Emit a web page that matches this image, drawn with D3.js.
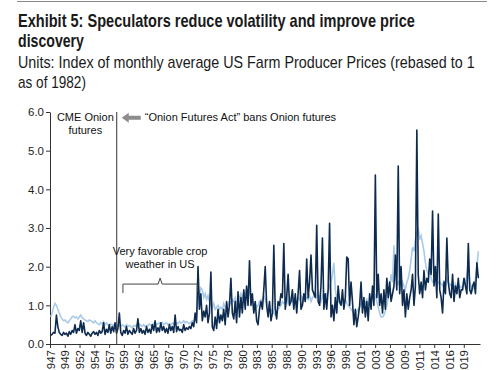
<!DOCTYPE html>
<html>
<head>
<meta charset="utf-8">
<script src="https://cdn.jsdelivr.net/npm/d3@7"></script>
<style>
  body { margin: 0; background: #fff; }
  .title { font-family: "Liberation Sans Narrow", "Arial Narrow", "Liberation Sans", sans-serif; }
  .axis text { font-family: "Liberation Sans", Arial, sans-serif; font-size: 11.5px; fill: #222; }
  .axis path, .axis line { stroke: #333; }
  .note { font-family: "Liberation Sans", Arial, sans-serif; font-size: 11px; fill: #111; }
</style>
</head>
<body>
<div id="chart"></div>
<script>
// quarterly readings, one row per year, 1947 .. 2021
const years = d3.range(1947, 2022);

const onionPrices = [
  0.22, 0.25, 0.30, 0.28,  // 1947
  0.75, 0.45, 0.30, 0.25,
  0.22, 0.30, 0.25, 0.28,
  0.20, 0.32, 0.25, 0.35,  // 1950
  0.30, 0.50, 0.28, 0.40,
  0.35, 0.60, 0.30, 0.55,
  0.28, 0.22, 0.30, 0.25,
  0.20, 0.28, 0.32, 0.25,
  0.30, 0.22, 0.35, 0.28,  // 1955
  0.32, 0.55, 0.25, 0.38,
  0.30, 0.50, 0.28, 0.45,
  0.32, 0.55, 0.28, 0.40,
  0.80, 0.30, 0.22, 0.35,
  0.28, 0.45, 0.25, 0.35,  // 1960
  0.30, 0.25, 0.40, 0.28,
  0.35, 0.65, 0.30, 0.40,
  0.28, 0.35, 0.25, 0.45,
  0.30, 0.38, 0.28, 0.50,
  0.35, 0.60, 0.30, 0.42,  // 1965
  0.32, 0.55, 0.35, 0.45,
  0.30, 0.40, 0.28, 0.50,
  0.35, 0.45, 0.30, 0.75,
  0.32, 0.45, 0.35, 0.38,
  0.30, 0.50, 0.35, 0.42,  // 1970
  0.38, 0.45, 0.40, 0.55,
  0.45, 0.80, 0.55, 2.00,
  0.90, 1.30, 0.60, 0.85,
  0.70, 1.00, 0.55, 0.80,
  1.86, 0.45, 0.35, 0.70,  // 1975
  0.40, 0.90, 0.55, 0.75,
  0.60, 0.90, 0.50, 1.10,
  0.70, 1.00, 1.70, 0.80,
  0.65, 1.10, 0.55, 1.35,
  0.70, 1.20, 0.80, 1.40,  // 1980
  0.90, 1.50, 1.00, 2.15,
  1.00, 1.30, 0.80, 1.10,
  0.60, 0.50, 0.90, 1.10,
  0.90, 1.40, 2.00, 1.00,
  0.70, 1.10, 0.60, 0.80,  // 1985
  2.55, 0.90, 0.65, 1.10,
  1.00, 1.30, 1.20, 2.60,
  0.90, 1.20, 1.80, 1.00,
  1.10, 1.40, 0.90, 1.30,
  0.80, 1.30, 1.90, 0.90,  // 1990
  1.00, 1.30, 1.10, 2.20,
  1.20, 1.60, 2.30, 1.40,
  1.30, 1.20, 3.07, 1.10,
  1.00, 1.50, 2.74, 0.90,
  1.30, 0.90, 1.40, 3.12,  // 1995
  0.70, 1.00, 0.60, 1.20,
  0.80, 1.50, 1.10, 1.00,
  1.40, 0.90, 1.20, 2.25,
  2.20, 1.00, 1.60, 1.10,
  0.50, 0.90, 0.45, 0.70,  // 2000
  1.00, 1.60, 0.80, 1.20,
  0.70, 1.10, 0.60, 1.30,
  0.90, 1.50, 1.00, 4.37,
  1.20, 1.80, 1.00, 1.30,
  0.80, 1.40, 0.90, 1.70,  // 2005
  1.20, 1.60, 1.10, 1.30,
  1.50, 2.30, 1.40, 4.60,
  1.30, 2.00, 1.00, 1.40,
  0.70, 1.30, 0.90, 1.20,
  1.40, 1.80, 1.00, 1.50,  // 2010
  5.53, 1.80, 1.30, 1.60,
  1.20, 1.90, 1.40, 1.70,
  1.60, 2.20, 1.80, 3.44,
  1.50, 2.00, 1.20, 3.36,
  1.40, 1.20, 0.80, 1.60,  // 2015
  1.30, 2.74, 1.60, 1.30,
  1.20, 1.80, 1.10, 1.50,
  1.30, 1.70, 1.20, 1.40,
  1.40, 1.70, 1.50, 1.30,
  2.60, 1.40, 1.30, 1.50,  // 2020
  1.60, 1.30, 2.10, 1.70
];

const farmPrices = [
  0.70, 0.80, 0.95, 1.05,  // 1947
  1.00, 0.90, 0.80, 0.70,
  0.65, 0.60, 0.62, 0.58,
  0.55, 0.60, 0.65, 0.70,  // 1950
  0.72, 0.68, 0.70, 0.65,
  0.70, 0.75, 0.68, 0.65,
  0.62, 0.60, 0.58, 0.62,
  0.60, 0.58, 0.55, 0.60,
  0.55, 0.52, 0.50, 0.55,  // 1955
  0.52, 0.58, 0.50, 0.55,
  0.50, 0.48, 0.52, 0.50,
  0.48, 0.52, 0.50, 0.45,
  0.48, 0.45, 0.50, 0.47,
  0.44, 0.50, 0.46, 0.48,  // 1960
  0.45, 0.42, 0.48, 0.46,
  0.50, 0.47, 0.52, 0.48,
  0.46, 0.50, 0.45, 0.48,
  0.47, 0.52, 0.48, 0.50,
  0.52, 0.55, 0.50, 0.53,  // 1965
  0.55, 0.52, 0.56, 0.50,
  0.52, 0.55, 0.50, 0.53,
  0.50, 0.54, 0.52, 0.56,
  0.55, 0.52, 0.58, 0.54,
  0.56, 0.60, 0.55, 0.58,  // 1970
  0.55, 0.52, 0.56, 0.60,
  0.58, 0.62, 0.70, 1.10,
  1.30, 1.45, 1.40, 1.20,
  1.30, 1.15, 1.25, 1.10,
  1.00, 0.95, 1.05, 0.90,  // 1975
  0.95, 1.00, 0.90, 0.95,
  0.90, 1.05, 0.95, 1.00,
  1.00, 1.10, 1.05, 1.15,
  1.10, 1.20, 1.05, 1.15,
  1.20, 1.30, 1.15, 1.35,  // 1980
  1.30, 1.40, 1.25, 1.35,
  1.20, 1.10, 1.00, 1.05,
  0.95, 1.00, 1.10, 1.15,
  1.10, 1.25, 1.15, 1.05,
  1.00, 0.95, 0.85, 0.90,  // 1985
  0.80, 0.75, 0.85, 0.90,
  0.95, 1.00, 1.10, 1.05,
  1.10, 1.20, 1.05, 1.15,
  1.20, 1.10, 1.15, 1.05,
  1.10, 1.20, 1.15, 1.25,  // 1990
  1.20, 1.10, 1.15, 1.20,
  1.15, 1.25, 1.10, 1.20,
  1.25, 1.35, 1.20, 1.30,
  1.20, 1.10, 1.25, 1.15,
  1.20, 1.30, 1.35, 1.50,  // 1995
  1.60, 1.80, 2.10, 1.40,
  1.20, 1.15, 1.05, 1.10,
  1.10, 1.00, 1.15, 1.05,
  1.00, 0.95, 0.90, 0.85,
  0.80, 0.75, 0.85, 0.90,  // 2000
  0.95, 1.05, 1.00, 1.10,
  1.05, 1.15, 1.00, 1.10,
  1.20, 1.30, 1.15, 1.25,
  1.10, 0.95, 0.80, 0.70,
  0.70, 0.75, 0.85, 1.00,  // 2005
  1.20, 1.40, 1.80, 1.60,
  2.55, 1.80, 1.50, 1.60,
  1.50, 1.40, 1.60, 1.50,
  1.40, 1.60, 1.70, 1.90,
  2.20, 2.50, 2.40, 2.70,  // 2010
  2.90, 3.00, 2.70, 2.80,
  2.60, 2.40, 2.10, 1.90,
  1.80, 1.90, 1.70, 1.60,
  1.60, 1.70, 1.50, 1.60,
  1.60, 1.55, 1.50, 1.65,  // 2015
  1.50, 1.70, 1.60, 1.55,
  1.50, 1.60, 1.45, 1.55,
  1.40, 1.55, 1.50, 1.45,
  1.50, 1.70, 1.55, 1.80,
  2.00, 1.60, 1.50, 1.40,  // 2020
  1.50, 1.70, 2.00, 2.40
];

// x labels sit every 31 months starting Jan 1947
const tickLabels = [1947, 1949, 1952, 1954, 1957, 1959, 1962, 1965, 1967, 1970,
  1972, 1975, 1978, 1980, 1983, 1985, 1988, 1990, 1993, 1996, 1998, 2001,
  2003, 2006, 2009, 2011, 2014, 2016, 2019];
const yTicks = [0, 1, 2, 3, 4, 5, 6];

const width = 500, height = 370;
const margin = {left: 50, right: 20, top: 112, bottom: 26};

const svg = d3.select("#chart").append("svg")
  .attr("width", width)
  .attr("height", height);

// header
svg.append("line")
  .attr("x1", 17).attr("x2", 487).attr("y1", 1.5).attr("y2", 1.5)
  .attr("stroke", "#8a8a8a").attr("stroke-width", 1.2);

// no narrow face installed, so squeeze each line to the reference width
const titleLines = [
  {text: "Exhibit 5: Speculators reduce volatility and improve price", w: 397},
  {text: "discovery", w: 66}
];
const subLines = [
  {text: "Units: Index of monthly average US Farm Producer Prices (rebased to 1", w: 457},
  {text: "as of 1982)", w: 68}
];

function squeeze(sel, top, step) {
  sel.each(function(d, i) {
    const natural = this.getComputedTextLength();
    const sx = d.w / natural;
    d3.select(this).attr("transform",
      "translate(18," + (top + i * step) + ") scale(" + sx + ",1)");
  });
}

svg.selectAll(".t1").data(titleLines).enter().append("text")
  .attr("class", "title")
  .attr("font-size", 18).attr("font-weight", "bold").attr("fill", "#1a1a1a")
  .text(d => d.text)
  .call(squeeze, 27, 20);

svg.selectAll(".t2").data(subLines).enter().append("text")
  .attr("class", "title")
  .attr("font-size", 16).attr("fill", "#1a1a1a")
  .text(d => d.text)
  .call(squeeze, 68, 19.5);

const toDate = i => new Date(1947 + Math.floor(i / 4), (i % 4) * 3 + 1, 15);

const x = d3.scaleTime()
  .domain([new Date(1947, 0, 1), new Date(2022, 2, 1)])
  .range([margin.left, width - margin.right]);

const y = d3.scaleLinear()
  .domain([0, 6])
  .range([height - margin.bottom, margin.top]);

const tickDates = tickLabels.map((d, i) => new Date(1947, i * 31, 1));

svg.append("g")
  .attr("class", "axis")
  .attr("transform", "translate(0," + (height - margin.bottom) + ")")
  .call(d3.axisBottom(x).tickValues(tickDates).tickSize(4).tickSizeOuter(0)
    .tickFormat((d, i) => tickLabels[i]))
  .call(g => g.selectAll("text")
    .attr("transform", "rotate(-90)")
    .attr("text-anchor", "end")
    .attr("x", -6).attr("y", 0).attr("dy", "0.35em"));

svg.append("g")
  .attr("class", "axis")
  .attr("transform", "translate(" + margin.left + ",0)")
  .call(d3.axisLeft(y).tickValues(yTicks).tickSize(4).tickSizeOuter(0)
    .tickFormat(d3.format(".1f")))
  .call(g => g.selectAll("text").attr("x", -6));

const line = d3.line()
  .x((d, i) => x(toDate(i)))
  .y(d => y(d));

svg.append("path")
  .datum(farmPrices)
  .attr("fill", "none")
  .attr("stroke", "#a9cbe7")
  .attr("stroke-width", 1.6)
  .attr("d", line);

svg.append("path")
  .datum(onionPrices)
  .attr("fill", "none")
  .attr("stroke", "#0d2a4f")
  .attr("stroke-width", 1.6)
  .attr("stroke-linejoin", "round")
  .attr("d", line);

// Onion Futures Act marker
const actDate = new Date(1958, 8, 1);
svg.append("line")
  .attr("x1", x(actDate)).attr("x2", x(actDate))
  .attr("y1", y(6)).attr("y2", y(0))
  .attr("stroke", "#333").attr("stroke-width", 1);

svg.selectAll(".cme").data(["CME Onion", "futures"]).enter().append("text")
  .attr("class", "note")
  .attr("x", x(new Date(1953, 0, 1)) + 1)
  .attr("y", (d, i) => y(5.78) + i * 13.5)
  .attr("text-anchor", "middle")
  .text(d => d);

const ax = x(actDate);
svg.append("path")
  .attr("d", `M${ax + 5},${y(5.85)} l7,-5 v3 h12 v4 h-12 v3 z`)
  .attr("fill", "#8c8c8c");

svg.append("text")
  .attr("class", "note")
  .attr("x", ax + 28).attr("y", y(5.78))
  .text("\u201cOnion Futures Act\u201d bans Onion futures");

// favourable weather bracket
const bx0 = x(new Date(1959, 9, 1)), bx1 = x(new Date(1972, 9, 1));
const bmid = (bx0 + bx1) / 2, by = y(1.55);
svg.append("path")
  .attr("d", `M${bx0},${by + 9} V${by} H${bmid - 2} l2,-6 l2,6 H${bx1} V${by + 8}`)
  .attr("fill", "none").attr("stroke", "#444").attr("stroke-width", 1);

svg.selectAll(".wx").data(["Very favorable crop", "weather in US"]).enter().append("text")
  .attr("class", "note")
  .attr("x", bmid)
  .attr("y", (d, i) => y(2.3) + i * 13)
  .attr("text-anchor", "middle")
  .text(d => d);
</script>
</body>
</html>
